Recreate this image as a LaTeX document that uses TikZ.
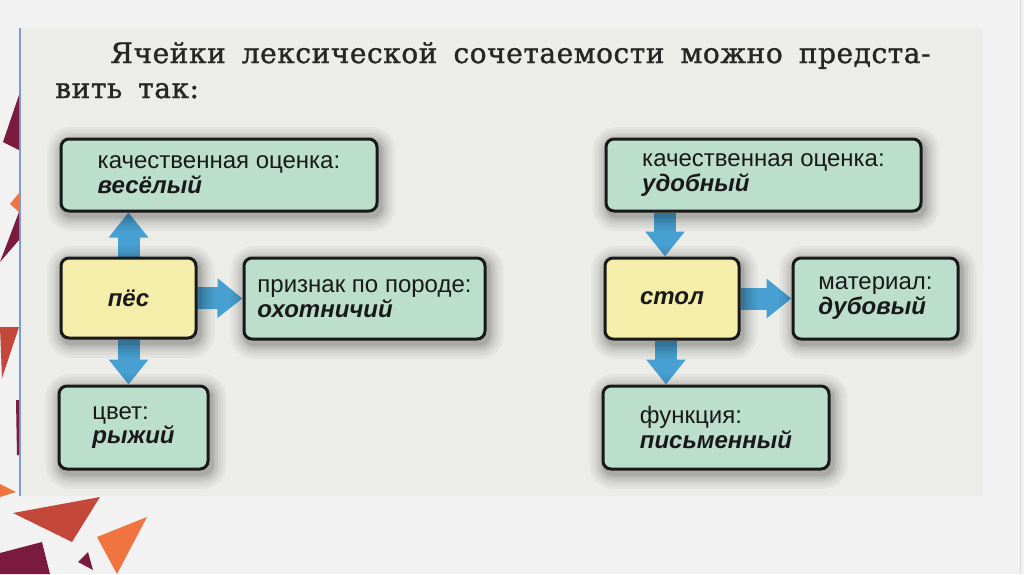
\documentclass[tikz,border=0pt]{standalone}
\usepackage{fontspec}
\setmainfont{Liberation Sans}
\newfontfamily\titlefont[LetterSpace=2,FakeBold=1.2]{DejaVu Serif}
\usetikzlibrary{arrows.meta}

\definecolor{cellgreen}{RGB}{188,222,205}
\definecolor{cellyellow}{RGB}{244,238,170}
\definecolor{arrowblue}{RGB}{72,160,210}
\definecolor{pagegray}{RGB}{236,236,232}
\definecolor{slidegray}{RGB}{242,242,242}
\definecolor{decomaroon}{RGB}{122,26,62}
\definecolor{decobrick}{RGB}{196,72,58}
\definecolor{decoorange}{RGB}{240,116,64}
\definecolor{rulerblue}{RGB}{125,155,205}

\pgfdeclarelayer{deco}
\pgfdeclarelayer{frecce}
\pgfsetlayers{deco,frecce,main}

\tikzset{
  ombra/.style 2 args={preaction={draw=black, opacity=#1, line width=#2,
    transform canvas={shift={(1.2pt,-2pt)}}}},
  cella/.style={draw=black!90, line width=1.5pt, rounded corners=4pt,
    fill=cellgreen, align=left, text=black!90,
    font=\fontsize{12}{11}\selectfont,
    ombra={0.035}{16pt}, ombra={0.035}{13pt}, ombra={0.045}{10pt},
    ombra={0.05}{7.5pt}, ombra={0.06}{5pt}, ombra={0.08}{3pt}},
  parola/.style={cella, fill=cellyellow,
    font=\fontsize{12}{11}\selectfont\bfseries\itshape},
  freccia/.style={arrowblue, line width=11pt,
    -{Triangle[width=19pt,length=12.5pt]}},
}

\begin{document}
\begin{tikzpicture}[x=0.5pt,y=-0.5pt]
    \useasboundingbox (0,0) rectangle (1024,574);

    % fondo
    \begin{pgfonlayer}{deco}
    \fill[slidegray] (0,0) rectangle (1024,574);
    \fill[pagegray] (19,28) rectangle (983,496);
    \draw[rulerblue, line width=1pt] (20,28) -- (20,496);
    \draw[black!15, line width=0.5pt] (1020,0) -- (1020,574);

    % triangoli
    \fill[decomaroon] (19,95) -- (3,142) -- (19,150) -- cycle;
    \fill[decoorange] (19,193) -- (10,204) -- (19,212) -- cycle;
    \fill[decomaroon] (19,212) -- (0,262) -- (19,240) -- cycle;
    \fill[decobrick] (0,327) -- (19,327) -- (2,378) -- cycle;
    \fill[decomaroon] (16,400) -- (19,400) -- (19,455) -- (17,455) -- cycle;
    \fill[decoorange] (0,484) -- (16,492) -- (0,497) -- cycle;
    \fill[decobrick] (13,513) -- (100,497) -- (72,542) -- cycle;
    \fill[decoorange] (97,537) -- (147,517) -- (117,574) -- cycle;
    \fill[decomaroon] (0,553) -- (42,542) -- (50,574) -- (0,574) -- cycle;
    \fill[decomaroon] (78,562) -- (88,552) -- (93,570) -- cycle;
    \end{pgfonlayer}

    % titolo
    \node[anchor=base west, inner sep=0pt, text=black!85,
      font=\titlefont\fontsize{14}{17}\selectfont] (riga1) at (110,63)
      {\makebox[410pt][s]{Ячейки лексической сочетаемости можно предста-}};
    \node[anchor=base west, inner sep=0pt, text=black!85,
      font=\titlefont\fontsize{14}{17}\selectfont] (riga2) at (55,98)
      {вить\hspace{8pt}так:};

    % schema sinistro
    \node[cella, minimum width=158pt, minimum height=36pt] (ocenkaA) at (219,175)
      {качественная оценка:\\ \textbf{\textit{весёлый}}};
    \node[parola, minimum width=67.5pt, minimum height=40pt] (pes) at (128.5,298)
      {пёс};
    \node[cella, minimum width=120.5pt, minimum height=40.5pt] (poroda) at (364.5,298.5)
      {признак по породе:\\ \textbf{\textit{охотничий}}};
    \node[cella, minimum width=74.5pt, minimum height=41.5pt] (cvet) at (133.5,427.5)
      {цвет:\\ \textbf{\textit{рыжий}}};

    % schema destro
    \node[cella, minimum width=157.5pt, minimum height=36pt] (ocenkaB) at (763.5,175)
      {качественная оценка:\\ \textbf{\textit{удобный}}};
    \node[parola, minimum width=67pt, minimum height=40.5pt] (stol) at (672,298.5)
      {стол};
    \node[cella, minimum width=82.5pt, minimum height=40.5pt] (material) at (875.5,298.5)
      {материал:\\ \textbf{\textit{дубовый}}};
    \node[cella, minimum width=113pt, minimum height=41.5pt] (funkcija) at (716,427.5)
      {функция:\\ \textbf{\textit{письменный}}};

    % frecce
    \begin{pgfonlayer}{frecce}
    \draw[freccia] (pes.north) -- (pes.north |- ocenkaA.south);
    \draw[freccia] (pes.east) -- (poroda.west);
    \draw[freccia] (pes.south) -- (pes.south |- cvet.north);
    \coordinate (stolx) at ([xshift=-3.5pt]stol.north);
    \draw[freccia] (stolx |- ocenkaB.south) -- (stolx);
    \draw[freccia] (stol.east) -- (material.west);
    \coordinate (stoly) at ([xshift=-3pt]stol.south);
    \draw[freccia] (stoly) -- (stoly |- funkcija.north);
    \end{pgfonlayer}
\end{tikzpicture}
\end{document}
